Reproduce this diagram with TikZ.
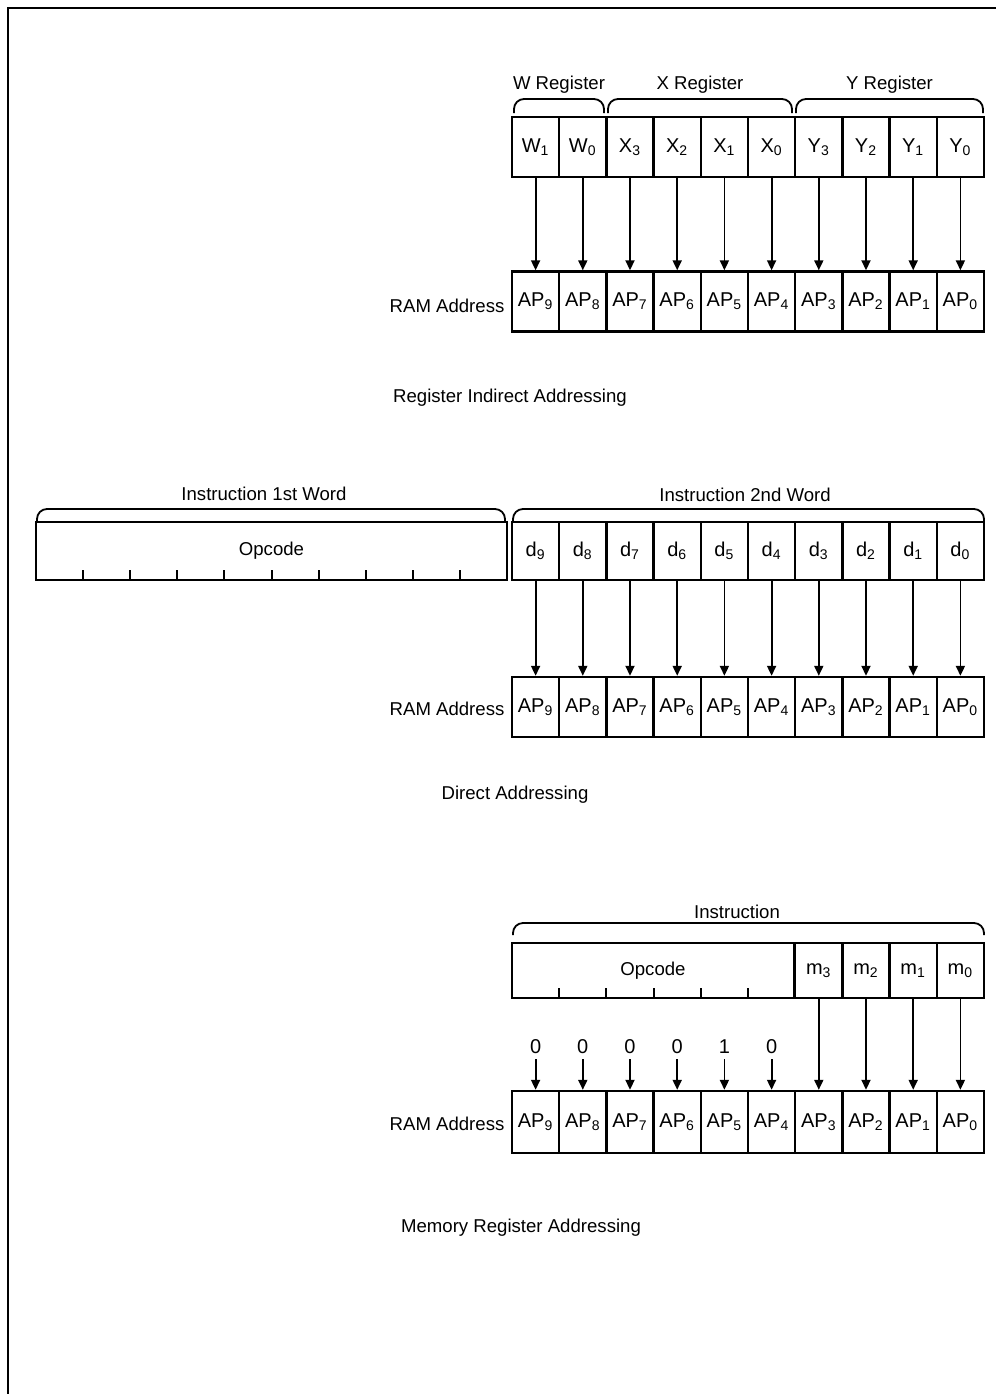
\documentclass[tikz,border=0pt]{standalone}
\usepackage{fontspec}
\setmainfont{Liberation Sans}
\usetikzlibrary{arrows.meta}
\newcommand{\sub}[1]{\textsubscript{#1}}
\tikzset{
  bitcell/.style={draw, line width=1.2pt, minimum width=23.6pt, minimum height=30pt, inner sep=0pt, font=\fontsize{10}{12}\selectfont},
  opbox/.style={draw, line width=1.2pt, inner sep=0pt, font=\fontsize{9.3}{11}\selectfont},
  lbl/.style={font=\fontsize{9.3}{11}\selectfont, inner sep=1pt},
  bitline/.style={-{Triangle[length=5pt,width=4.5pt]}, line width=0.9pt},
  brace/.style={line width=0.9pt, rounded corners=5pt},
}

\begin{document}
\begin{tikzpicture}[x=0.5pt,y=-0.5pt]
        \useasboundingbox (0,0) rectangle (998,1394);
        % frame
        \draw[line width=1pt] (8,1394) -- (8,8) -- (996,8);

        % register indirect addressing
        \foreach \t [count=\i from 0] in {W\sub{1},W\sub{0},X\sub{3},X\sub{2},X\sub{1},X\sub{0},Y\sub{3},Y\sub{2},Y\sub{1},Y\sub{0}} {
            \node[bitcell] (reg\i) at (535.6+47.2*\i,147) {\t};
        }
        \foreach \i in {0,...,9} {
            \pgfmathtruncatemacro{\n}{9-\i};
            \node[bitcell] (ramA\i) at (535.6+47.2*\i,301.5) {AP\sub{\n}};
            \draw[bitline] (reg\i) -- (ramA\i);
        }
        \foreach \a/\b/\t [count=\j] in {514/604/W Register,608/792/X Register,796/983/Y Register} {
            \draw[brace] (\a,113) -- (\a,99) -- (\b,99) -- (\b,113);
            \node[lbl] (regname\j) at ({(\a+\b)/2},85) {\t};
        }
        \node[lbl, anchor=east] (ramnameA) at ([xshift=-2pt,yshift=-2pt]ramA0.west) {RAM Address};
        \node[lbl] (capA) at (510,398) {Register Indirect Addressing};

        % direct addressing
        \node[opbox, minimum width=235.5pt, minimum height=29pt] (opA) at (271.5,551) {Opcode};
        \foreach \k in {1,...,9} {
            \draw[line width=1pt] (36+47.1*\k,580) -- ++(0,-10);
        }
        \foreach \i in {0,...,9} {
            \pgfmathtruncatemacro{\n}{9-\i};
            \node[bitcell, minimum height=29pt] (dbit\i) at (535.6+47.2*\i,551) {d\sub{\n}};
            \node[bitcell] (ramB\i) at (535.6+47.2*\i,707) {AP\sub{\n}};
            \draw[bitline] (dbit\i) -- (ramB\i);
        }
        \draw[brace] (37,521) -- (37,509) -- (505,509) -- (505,521);
        \draw[brace] (513,521) -- (513,509) -- (984,509) -- (984,521);
        \node[lbl] (wordname1) at (264,494) {Instruction 1st Word};
        \node[lbl] (wordname2) at (745,495) {Instruction 2nd Word};
        \node[lbl, anchor=east] (ramnameB) at ([xshift=-2pt,yshift=-1pt]ramB0.west) {RAM Address};
        \node[lbl] (capB) at (515,795) {Direct Addressing};

        % memory register addressing
        \node[opbox, minimum width=141pt, minimum height=27.5pt] (opB) at (653,970.5) {Opcode};
        \foreach \k in {1,...,5} {
            \draw[line width=1pt] (512+47.2*\k,998) -- ++(0,-10);
        }
        \foreach \i in {0,...,9} {
            \pgfmathtruncatemacro{\n}{9-\i};
            \node[bitcell, minimum height=31pt] (ramC\i) at (535.6+47.2*\i,1122) {AP\sub{\n}};
        }
        \foreach \v [count=\i from 0] in {0,0,0,0,1,0} {
            \node[bitcell, draw=none, minimum height=0pt, minimum width=0pt, inner sep=2pt] (fix\i) at (535.6+47.2*\i,1047) {\v};
            \draw[bitline] (fix\i) -- (ramC\i);
        }
        \foreach \i in {6,...,9} {
            \pgfmathtruncatemacro{\n}{9-\i};
            \node[bitcell, minimum height=27.5pt] (mbit\i) at (535.6+47.2*\i,970.5) {m\sub{\n}};
            \draw[bitline] (mbit\i) -- (ramC\i);
        }
        \draw[brace] (513,935) -- (513,923) -- (984,923) -- (984,935);
        \node[lbl] (instname) at (737,912) {Instruction};
        \node[lbl, anchor=east] (ramnameC) at ([xshift=-2pt,yshift=-1pt]ramC0.west) {RAM Address};
        \node[lbl] (capC) at (521,1228) {Memory Register Addressing};
\end{tikzpicture}
\end{document}
